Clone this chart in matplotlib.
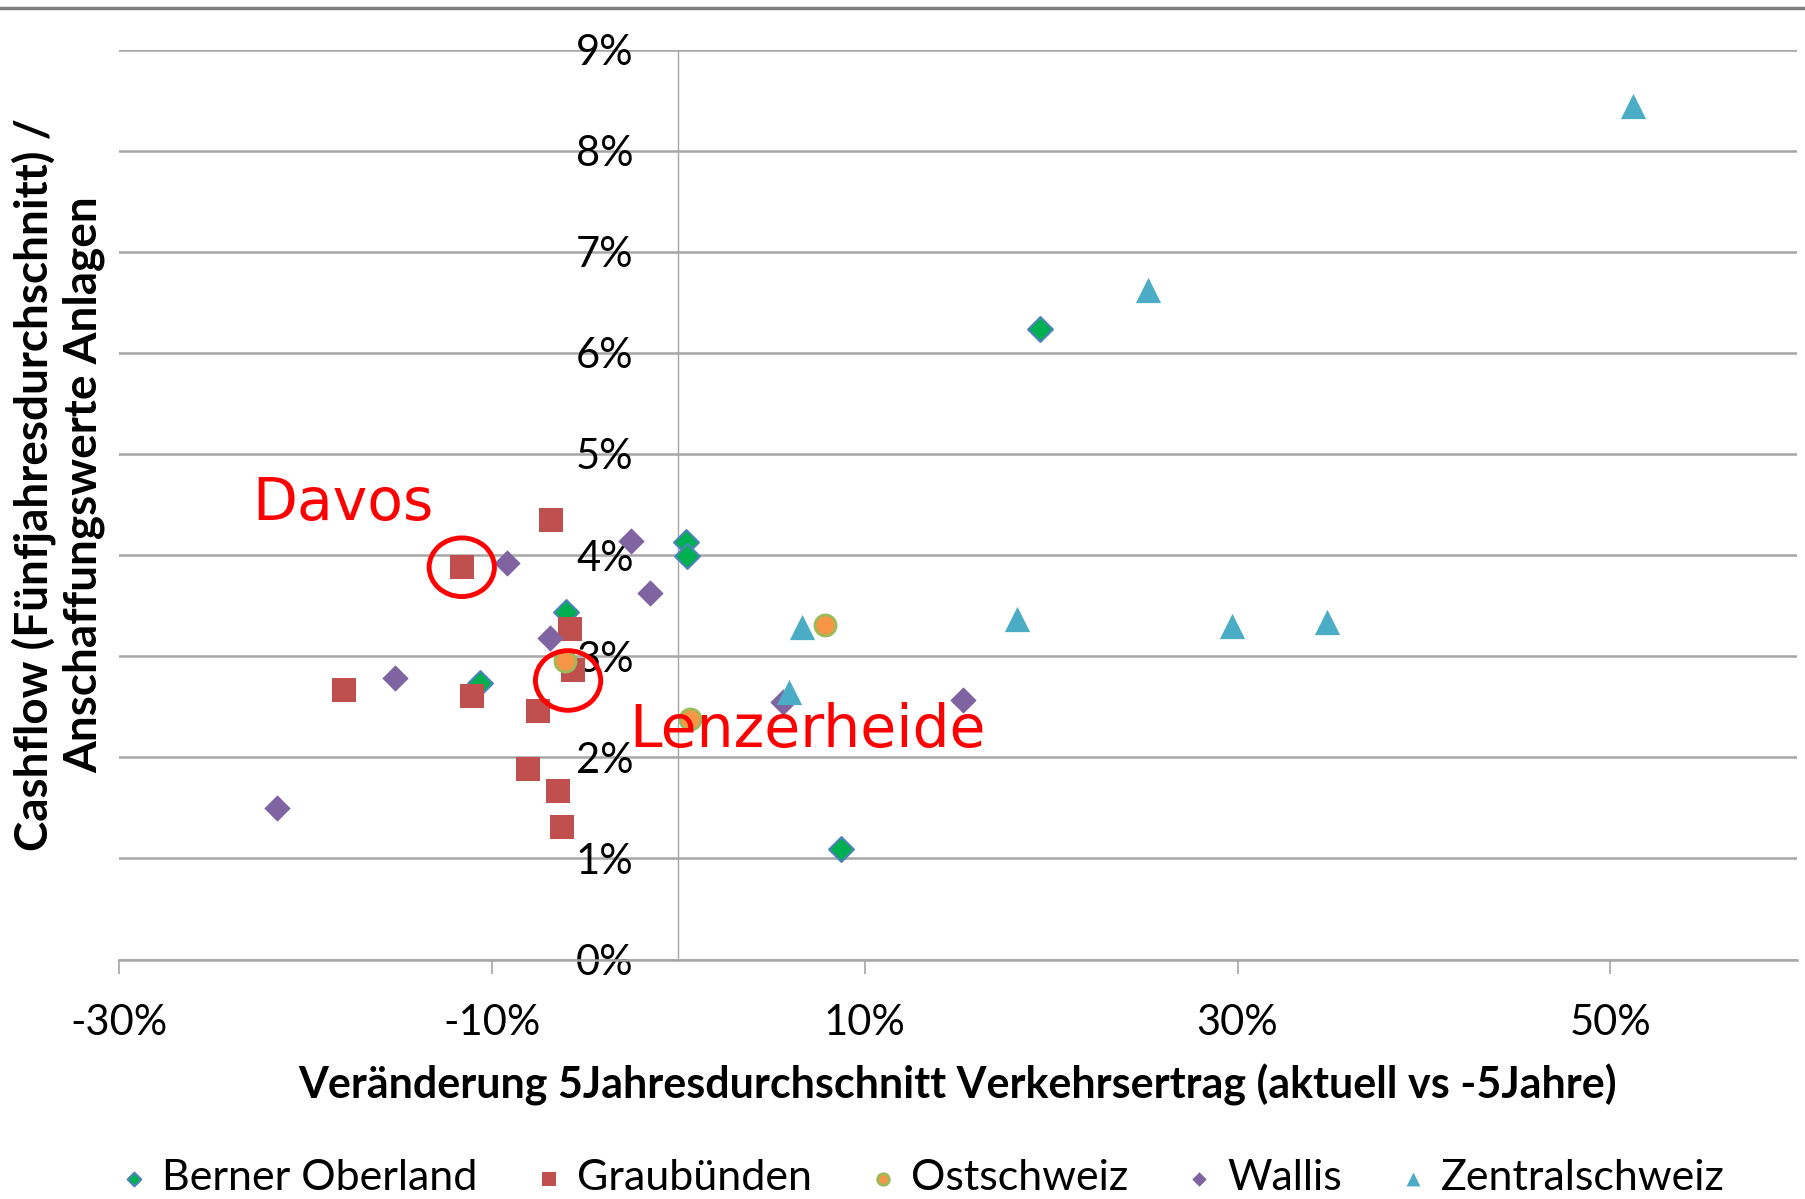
import numpy as np
import matplotlib.pyplot as plt
from matplotlib.patches import Ellipse
from matplotlib.lines import Line2D

# values in percent (x = change of traffic revenue, y = cashflow / assets)
bo_x = [19.4, 0.4, 0.5, -6.0, -10.6, 8.75]
bo_y = [6.24, 4.13, 3.99, 3.44, 2.74, 1.09]

gr_x = [-6.8, -11.6, -5.8, -5.65, -17.9, -11.05, -7.5, -8.05, -6.45, -6.2]
gr_y = [4.35, 3.88, 3.27, 2.86, 2.67, 2.61, 2.46, 1.88, 1.67, 1.31]

os_x = [-6.05, 0.65, 7.9]
os_y = [2.95, 2.38, 3.31]

wa_x = [-2.55, -9.15, -1.5, -6.85, -15.2, -21.5, 5.65, 15.3]
wa_y = [4.14, 3.92, 3.63, 3.18, 2.78, 1.50, 2.55, 2.57]

zs_x = [51.2, 25.2, 18.2, 29.7, 34.8, 6.65, 5.95]
zs_y = [8.44, 6.62, 3.37, 3.30, 3.34, 3.29, 2.65]

x_ticks = [-30, -10, 10, 30, 50]
y_ticks = [0, 1, 2, 3, 4, 5, 6, 7, 8, 9]

fnt = 'Lato'

fig = plt.figure(figsize=(18.06, 11.99), dpi=100)
ax = fig.add_axes([0.0657, 0.1997, 0.9293, 0.759])

ax.set_xlim(-30, 60)
ax.set_ylim(0, 9)

for s in ['top', 'right']:
    ax.spines[s].set_visible(False)
ax.spines['left'].set_position(('data', 0))
ax.spines['left'].set_color('#a6a6a6')
ax.spines['left'].set_linewidth(1.0)
ax.spines['bottom'].set_color('#a6a6a6')
ax.spines['bottom'].set_linewidth(1.8)

ax.set_yticks(y_ticks)
ax.set_yticklabels([f'{v}%' for v in y_ticks], fontfamily=fnt, fontsize=30)
ax.set_xticks(x_ticks)
ax.set_xticklabels([f'{v}%' for v in x_ticks], fontfamily=fnt, fontsize=30)
ax.tick_params(axis='y', length=0, pad=32)
ax.tick_params(axis='x', length=10, width=1.2, color='#a6a6a6', pad=22)
ax.yaxis.grid(True, color='#a6a6a6', linewidth=1.8)
ax.set_axisbelow(True)

ax.scatter(bo_x, bo_y, marker='D', s=160, color='#00B050', edgecolors='#4F81BD', linewidths=1.5, zorder=3, label='Berner Oberland')
ax.scatter(gr_x, gr_y, marker='s', s=300, color='#C0504D', edgecolors='#C0504D', linewidths=0, zorder=3, label='Graubünden')
ax.scatter(os_x, os_y, marker='o', s=230, color='#F79646', edgecolors='#9BBB59', linewidths=2, zorder=4, label='Ostschweiz')
ax.scatter(wa_x, wa_y, marker='D', s=180, color='#8064A2', edgecolors='#8064A2', linewidths=0, zorder=3, label='Wallis')
ax.scatter(zs_x, zs_y, marker='^', s=330, color='#4BACC6', edgecolors='#4BACC6', linewidths=0, zorder=3, label='Zentralschweiz')

# annotations
ax.add_patch(Ellipse((-11.6, 3.88), 3.5, 0.58, fill=False, edgecolor='red', linewidth=3.5, zorder=5))
ax.add_patch(Ellipse((-5.9, 2.76), 3.5, 0.59, fill=False, edgecolor='red', linewidth=3.5, zorder=5))
ax.text(-22.85, 4.51, 'Davos', color='red', fontsize=42, fontfamily='DejaVu Sans', va='center', ha='left', zorder=6)
ax.text(-2.6, 2.27, 'Lenzerheide', color='red', fontsize=42, fontfamily='DejaVu Sans', va='center', ha='left', zorder=6)

ax.set_xlabel('Veränderung 5Jahresdurchschnitt Verkehrsertrag (aktuell vs -5Jahre)',
              fontfamily=fnt, fontweight='bold', fontsize=31, labelpad=16)
fig.text(0.0325, 0.596, 'Cashflow (Fünfjahresdurchschnitt) /\nAnschaffungswerte Anlagen',
         rotation=90, ha='center', va='center', fontfamily=fnt, fontweight='bold',
         fontsize=33, linespacing=1.2)

handles, labels = ax.get_legend_handles_labels()
fig.legend(handles, labels, loc='center', bbox_to_anchor=(0.51, 0.0175), ncol=5, frameon=False,
           prop={'family': fnt, 'size': 31}, markerscale=0.55, handletextpad=0.25,
           columnspacing=1.25, handlelength=0.8)

# frame line at the top of the picture
fig.add_artist(Line2D([0, 1], [0.9935, 0.9935], color='#808080', linewidth=2.5, transform=fig.transFigure))

fig.savefig('out.png', dpi=100)
